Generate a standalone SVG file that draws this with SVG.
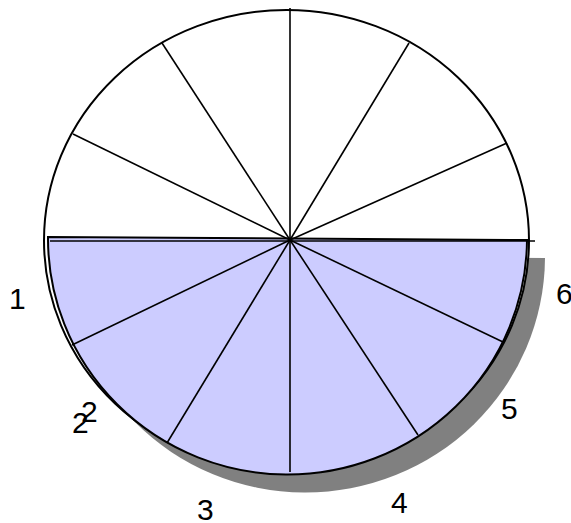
<svg xmlns="http://www.w3.org/2000/svg" width="571" height="523" viewBox="0 0 571 523">
<style>
.spoke{stroke:#000;stroke-width:1.6;fill:none}
.outline{stroke:#000;stroke-width:2}
.lbl{font-family:"Liberation Sans",Arial,sans-serif;font-size:30px;fill:#000}
</style>
<defs>
<path id="half" d="M48,237 L527,240 A239,235.5 0 1 1 48,237 Z"/>
</defs>
<rect width="571" height="523" fill="#fff"/>
<g id="shadow">
<use href="#half" transform="translate(18,18)" fill="#808080"/>
</g>
<g id="pie-full">
<ellipse cx="286.5" cy="240.5" rx="242.5" ry="230.5" fill="#fff" class="outline"/>
</g>
<g id="pie-half">
<use href="#half" fill="#ccccff" class="outline"/>
</g>
<g id="connectors">
<line class="spoke" x1="290" y1="240" x2="73" y2="134"/>
<line class="spoke" x1="290" y1="240" x2="162" y2="43"/>
<line class="spoke" x1="290" y1="240" x2="290" y2="8"/>
<line class="spoke" x1="290" y1="240" x2="409" y2="43"/>
<line class="spoke" x1="290" y1="240" x2="507" y2="143"/>
<line class="spoke" x1="50" y1="241" x2="535" y2="241"/>
<line class="spoke" x1="290" y1="240" x2="72" y2="345"/>
<line class="spoke" x1="290" y1="240" x2="167" y2="443"/>
<line class="spoke" x1="290" y1="240" x2="290" y2="472"/>
<line class="spoke" x1="290" y1="240" x2="418" y2="435"/>
<line class="spoke" x1="290" y1="240" x2="503" y2="342"/>
</g>
<g id="labels">
<text class="lbl" x="9" y="309">1</text>
<text class="lbl" x="72" y="433">2</text>
<text class="lbl" x="81" y="422">2</text>
<text class="lbl" x="197" y="520">3</text>
<text class="lbl" x="391" y="513">4</text>
<text class="lbl" x="501" y="419">5</text>
<text class="lbl" x="556" y="304">6</text>
</g>
</svg>
